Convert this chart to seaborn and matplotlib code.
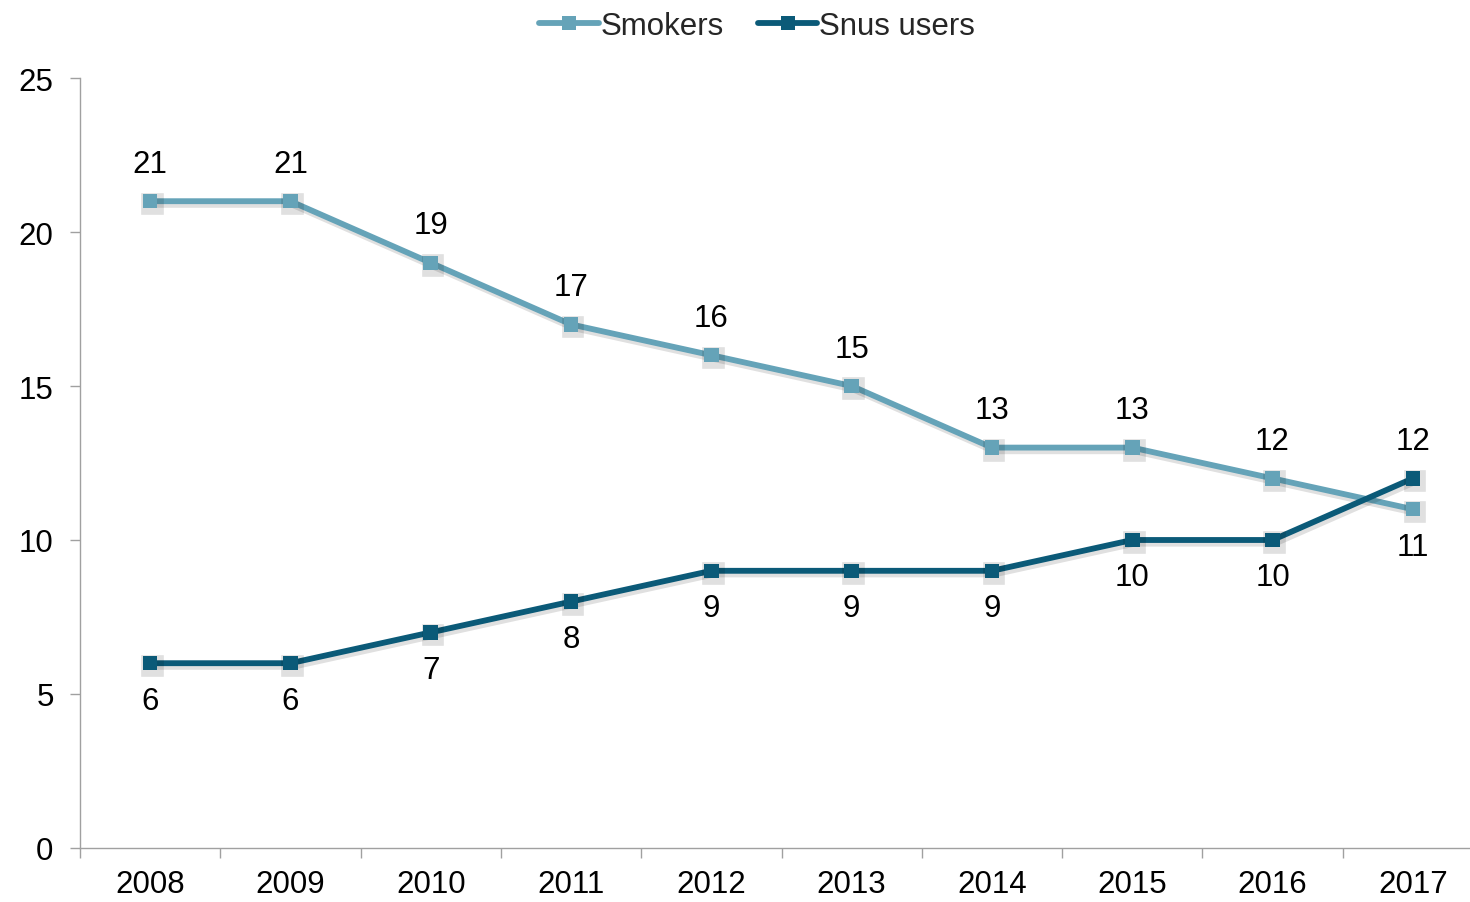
import matplotlib
matplotlib.use("Agg")
import matplotlib.pyplot as plt
import matplotlib.patheffects as pe
import seaborn as sns
import pandas as pd
import numpy as np

years = [2008, 2009, 2010, 2011, 2012, 2013, 2014, 2015, 2016, 2017]
smokers = [21, 21, 19, 17, 16, 15, 13, 13, 12, 11]
snus = [6, 6, 7, 8, 9, 9, 9, 10, 10, 12]
series_names = ["Smokers", "Snus users"]
colors = ["#65A3B8", "#0B5A78"]

sns.set_theme(style="white")
plt.rcParams["font.family"] = ["Liberation Sans", "DejaVu Sans"]
FS = 22.5

df = pd.DataFrame({
    "Year": years * 2,
    "Value": smokers + snus,
    "Series": [series_names[0]] * len(years) + [series_names[1]] * len(years),
})

fig = plt.figure(figsize=(14.7, 9.03), dpi=100)
ax = fig.add_axes([80 / 1470, 54 / 903, 1403 / 1470, 770 / 903])

sns.lineplot(data=df, x="Year", y="Value", hue="Series", palette=colors,
             marker="s", markersize=10.5, markeredgewidth=0, linewidth=4.2,
             ax=ax, legend=False)

shadow = [pe.SimpleLineShadow(offset=(1.5, -2), alpha=0.12, shadow_color="black", linewidth=5.5),
          pe.Normal()]
for line in ax.get_lines():
    line.set_path_effects(shadow)

ax.set_xlim(2007.5, 2017.5)
ax.set_ylim(0, 25)
ax.set_yticks([0, 5, 10, 15, 20, 25])
ax.set_xticks(years)
ax.set_xticks([y - 0.5 for y in years] + [2017.5], minor=True)
ax.tick_params(axis="x", which="major", length=0, labelsize=FS, pad=15, colors="black")
ax.tick_params(axis="x", which="minor", length=7, width=1, color="#A0A0A0", direction="out")
ax.tick_params(axis="y", which="major", length=7, width=1, color="#A0A0A0", direction="out",
               labelsize=FS, pad=12, labelcolor="black")
ax.xaxis.set_tick_params(bottom=True, which="both")
ax.yaxis.set_tick_params(left=True)
ax.set_xlabel("")
ax.set_ylabel("")
for s in ["top", "right"]:
    ax.spines[s].set_visible(False)
for s in ["left", "bottom"]:
    ax.spines[s].set_color("#A0A0A0")
    ax.spines[s].set_linewidth(1)

# data labels
for i, y in enumerate(years):
    sv, nv = smokers[i], snus[i]
    s_above = sv >= nv
    ax.annotate(str(sv), (y, sv), xytext=(0, 27 if s_above else -27), textcoords="offset points",
                ha="center", va="center", fontsize=FS, color="black")
    ax.annotate(str(nv), (y, nv), xytext=(0, -27 if s_above else 27), textcoords="offset points",
                ha="center", va="center", fontsize=FS, color="black")

from matplotlib.lines import Line2D
handles = [Line2D([], [], color=c, lw=4.2, marker="s", markersize=10.5, markeredgewidth=0)
           for c in colors]
fig.legend(handles, series_names, loc="upper center", bbox_to_anchor=(0.515, 1.018), ncol=2,
           frameon=False, fontsize=FS, handlelength=1.9, handletextpad=0.05, columnspacing=1.1)

fig.savefig("out.png", dpi=100)
